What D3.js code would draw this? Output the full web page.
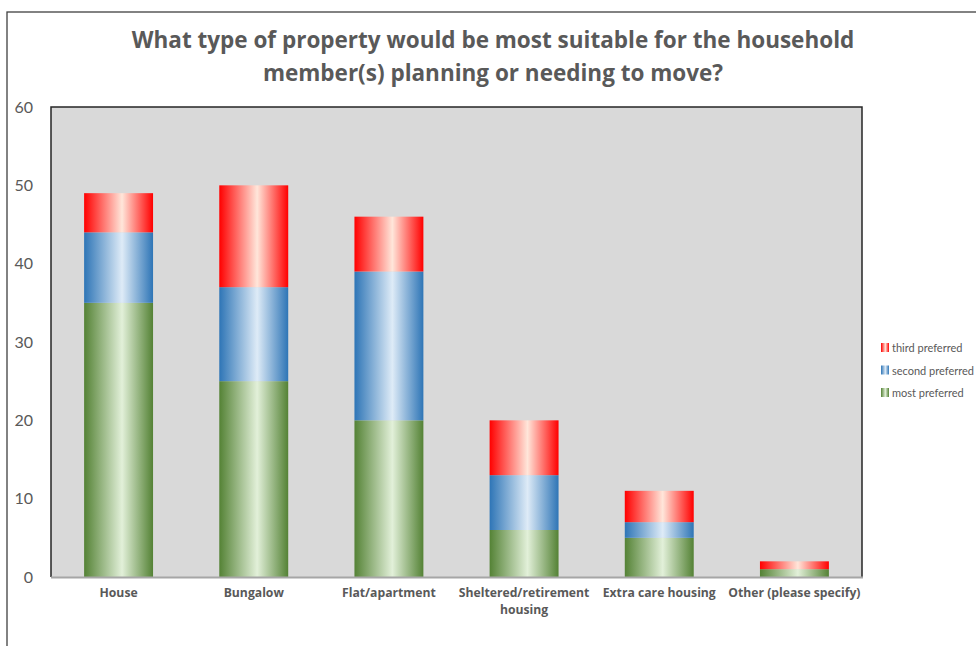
<!DOCTYPE html>
<html>
<head>
<meta charset="utf-8">
<script src="https://cdn.jsdelivr.net/npm/d3@7"></script>
<style>
  html, body { margin: 0; padding: 0; background: #fff; }
  svg { display: block; }
  text { font-family: Lato, "Open Sans", "Liberation Sans", sans-serif; }
  .bold { font-family: "Open Sans", Lato, sans-serif; }
</style>
</head>
<body>
<svg id="chart" width="976" height="646"></svg>
<script>
// Survey answers: property type preference counts
const categories = ["House", "Bungalow", "Flat/apartment", "Sheltered/retirement housing", "Extra care housing", "Other (please specify)"];
const mostPreferred = [35, 25, 20, 6, 5, 1];
const secondPreferred = [9, 12, 19, 7, 2, 0];
const thirdPreferred = [5, 13, 7, 7, 4, 1];
const seriesNames = ["most preferred", "second preferred", "third preferred"];
const yTicks = [0, 10, 20, 30, 40, 50, 60];
const titleLines = ["What type of property would be most suitable for the household", "member(s) planning or needing to move?"];

const svg = d3.select("#chart");
const W = 976, H = 646;
const plot = { left: 51, top: 107, right: 862, bottom: 577 };

// outer chart frame (extends past the right and bottom edges)
svg.append("rect").attr("x", 7).attr("y", 12).attr("width", W + 10).attr("height", H + 10)
  .attr("fill", "#fff").attr("stroke", "#404040").attr("stroke-width", 1.3);

// gradients: dark at the edges, pale near the middle
const gradDefs = [
  { id: "g-most", edge: "#548235", mid: "#e2f0d9" },
  { id: "g-second", edge: "#2e75b6", mid: "#deebf7" },
  { id: "g-third", edge: "#ff0000", mid: "#ffe6da" }
];
const defs = svg.append("defs");
gradDefs.forEach(g => {
  const lg = defs.append("linearGradient").attr("id", g.id).attr("x1", "0%").attr("x2", "100%").attr("y1", "0%").attr("y2", "0%");
  lg.append("stop").attr("offset", "0%").attr("stop-color", g.edge);
  lg.append("stop").attr("offset", "55%").attr("stop-color", g.mid);
  lg.append("stop").attr("offset", "100%").attr("stop-color", g.edge);
});

// plot background
svg.append("rect").attr("x", plot.left).attr("y", plot.top)
  .attr("width", plot.right - plot.left).attr("height", plot.bottom - plot.top)
  .attr("fill", "#d9d9d9");

const x = d3.scaleBand().domain(categories).range([plot.left, plot.right]).paddingInner(0.49).paddingOuter(0.245);
const y = d3.scaleLinear().domain([0, 60]).range([plot.bottom, plot.top]);

const table = categories.map((c, i) => ({
  cat: c,
  "most preferred": mostPreferred[i],
  "second preferred": secondPreferred[i],
  "third preferred": thirdPreferred[i]
}));
const stacked = d3.stack().keys(seriesNames)(table);
const fills = { "most preferred": "url(#g-most)", "second preferred": "url(#g-second)", "third preferred": "url(#g-third)" };

svg.append("g").selectAll("g").data(stacked).join("g")
  .attr("fill", d => fills[d.key])
  .selectAll("rect").data(d => d.filter(p => p[1] > p[0])).join("rect")
  .attr("x", d => x(d.data.cat))
  .attr("width", x.bandwidth())
  .attr("y", d => y(d[1]))
  .attr("height", d => y(d[0]) - y(d[1]));

// plot frame: dark on left/top/right, grey baseline
svg.append("path")
  .attr("d", `M${plot.left},${plot.bottom}V${plot.top}H${plot.right}V${plot.bottom}`)
  .attr("fill", "none").attr("stroke", "#262626").attr("stroke-width", 1.5);
svg.append("line").attr("x1", plot.left).attr("x2", plot.right + 1)
  .attr("y1", plot.bottom + 0.5).attr("y2", plot.bottom + 0.5)
  .attr("stroke", "#a6a6a6").attr("stroke-width", 2);

// y axis labels
const yAxis = svg.append("g").attr("transform", `translate(${plot.left},0)`)
  .call(d3.axisLeft(y).tickValues(yTicks).tickSize(0).tickPadding(18));
yAxis.select(".domain").remove();
yAxis.selectAll("text").attr("font-size", 16).attr("fill", "#595959")
  .style("font-family", "Lato, 'Open Sans', sans-serif");

// x axis labels (wrapped where needed)
const xAxis = svg.append("g").attr("transform", `translate(0,${plot.bottom})`)
  .call(d3.axisBottom(x).tickSize(0).tickPadding(0).tickFormat(""));
xAxis.select(".domain").remove();
const wrapped = { "Sheltered/retirement housing": ["Sheltered/retirement", "housing"] };
categories.forEach(c => {
  const lines = wrapped[c] || [c];
  const t = svg.append("text").attr("class", "bold").attr("x", x(c) + x.bandwidth() / 2).attr("y", plot.bottom + 20)
    .attr("text-anchor", "middle").attr("font-size", 12.2).attr("font-weight", "bold").attr("fill", "#595959");
  lines.forEach((l, i) => t.append("tspan").attr("x", x(c) + x.bandwidth() / 2).attr("dy", i === 0 ? 0 : 17).text(l));
});

// title
const title = svg.append("text").attr("class", "bold").attr("text-anchor", "middle").attr("font-size", 22.5).attr("font-weight", "bold").attr("fill", "#595959");
titleLines.forEach((l, i) => title.append("tspan").attr("x", 493).attr("y", 48 + i * 33).text(l));

// legend (third on top)
const legendOrder = ["third preferred", "second preferred", "most preferred"];
const lg = svg.append("g");
legendOrder.forEach((k, i) => {
  const yy = 348 + i * 22.5;
  lg.append("rect").attr("x", 881).attr("y", yy - 5).attr("width", 8).attr("height", 9).attr("fill", fills[k]);
  lg.append("text").attr("x", 892).attr("y", yy + 4).attr("font-size", 11).attr("fill", "#595959").text(k);
});
</script>
</body>
</html>
